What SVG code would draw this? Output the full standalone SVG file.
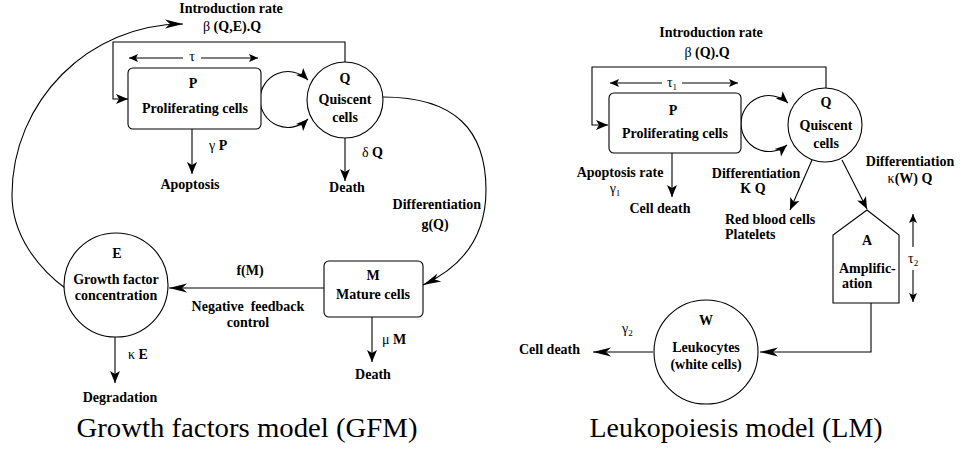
<svg xmlns="http://www.w3.org/2000/svg" width="962" height="451" viewBox="0 0 962 451">
  <style>
    .t { font-family: "Liberation Serif", "Times New Roman", serif; font-size: 14px; font-weight: bold; fill: #000; }
    .g { font-weight: normal; }
    .m { text-anchor: middle; }
    .e { text-anchor: end; }
    .ln { fill: none; stroke: #000; stroke-width: 1.1; }
    .nd { fill: #fff; stroke: #000; stroke-width: 1.1; }
    .cap { font-family: "Liberation Serif", "Times New Roman", serif; font-size: 27px; fill: #000; text-anchor: middle; }
  </style>
  <defs>
    <marker id="ah" markerUnits="userSpaceOnUse" markerWidth="14" markerHeight="12" refX="0" refY="0" viewBox="-13 -6 14 12" orient="auto">
      <path d="M0,0 L-12,-5 L-9,0 L-12,5 Z" fill="#000"/>
    </marker>
    <marker id="ahl" markerUnits="userSpaceOnUse" markerWidth="20" markerHeight="10" refX="0" refY="0" viewBox="-19 -5 20 10" orient="auto">
      <path d="M0,0 L-18,-4.5 L-13,0 L-18,4.5 Z" fill="#000"/>
    </marker>
    <marker id="ahs" markerUnits="userSpaceOnUse" markerWidth="11" markerHeight="10" refX="0" refY="0" viewBox="-10 -5 11 10" orient="auto-start-reverse">
      <path d="M0,0 L-9,-4 L-7,0 L-9,4 Z" fill="#000"/>
    </marker>
  </defs>

  <rect width="962" height="451" fill="#fff"/>

  <!-- Growth factors model: connectors -->
  <g id="connectors-gfm">
    <!-- feedback from E up to the introduction rate -->
    <path class="ln" d="M65,288 C38,268 12,235 12,195 C12,101 89,24 183,24" marker-end="url(#ahl)"/>
    <!-- introduction loop Q -> P -->
    <path class="ln" d="M345,62 V42 H113 V99 H128" marker-end="url(#ah)"/>
    <!-- tau duration -->
    <path class="ln" d="M129,58 H183" marker-start="url(#ahs)"/>
    <path class="ln" d="M201,58 H258" marker-end="url(#ahs)"/>
    <!-- P <-> Q exchange loop -->
    <path class="ln" d="M260,99 A28,28 0 0 1 308,80" marker-end="url(#ah)"/>
    <path class="ln" d="M260,99 A28,28 0 0 0 308,119" marker-end="url(#ah)"/>
    <!-- losses -->
    <path class="ln" d="M192,129 V174" marker-end="url(#ah)"/>
    <path class="ln" d="M345,138 V181" marker-end="url(#ah)"/>
    <!-- differentiation Q -> M -->
    <path class="ln" d="M383,97 C455,97 486,130 486,190 C486,240 460,268 423,285" marker-end="url(#ahl)"/>
    <!-- negative feedback M -> E -->
    <path class="ln" d="M324,288 H169" marker-end="url(#ahl)"/>
    <path class="ln" d="M372,317 V362" marker-end="url(#ah)"/>
    <path class="ln" d="M115,337 V383" marker-end="url(#ah)"/>
  </g>

  <!-- Growth factors model: labels -->
  <g id="labels-gfm" class="t">
    <text class="m" x="231" y="13">Introduction rate</text>
    <text class="m" x="232" y="31"><tspan class="g">β</tspan> (Q,E).Q</text>
    <text class="m g" x="192" y="61">τ</text>
    <text x="209" y="150"><tspan class="g">γ</tspan> P</text>
    <text class="m" x="190" y="189">Apoptosis</text>
    <text x="362" y="157"><tspan class="g">δ</tspan> Q</text>
    <text class="m" x="347" y="192">Death</text>
    <text class="e" x="481" y="209">Differentiation</text>
    <text class="m" x="435" y="229">g(Q)</text>
    <text class="m" x="250" y="275">f(M)</text>
    <text class="m" x="248" y="311" xml:space="preserve">Negative  feedback</text>
    <text class="m" x="248" y="327">control</text>
    <text x="382" y="344"><tspan class="g">μ</tspan> M</text>
    <text class="m" x="373" y="379">Death</text>
    <text x="128" y="359"><tspan class="g">κ</tspan> E</text>
    <text class="m" x="120" y="402">Degradation</text>
  </g>

  <!-- Growth factors model: nodes -->
  <g id="node-P" class="t">
    <rect class="nd" x="128" y="68" width="133" height="61" rx="5"/>
    <text class="m" x="193" y="88">P</text>
    <text class="m" x="195" y="113">Proliferating cells</text>
  </g>
  <g id="node-Q" class="t">
    <circle class="nd" cx="345" cy="100" r="38"/>
    <text class="m" x="345" y="83">Q</text>
    <text class="m" x="345" y="104">Quiscent</text>
    <text class="m" x="345" y="122">cells</text>
  </g>
  <g id="node-M" class="t">
    <rect class="nd" x="324" y="261" width="99" height="56" rx="5"/>
    <text class="m" x="373" y="280">M</text>
    <text class="m" x="373" y="299">Mature cells</text>
  </g>
  <g id="node-E" class="t">
    <circle class="nd" cx="116" cy="285" r="52"/>
    <text class="m" x="117" y="258">E</text>
    <text class="m" x="116" y="284">Growth factor</text>
    <text class="m" x="116" y="300">concentration</text>
  </g>

  <!-- Leukopoiesis model: connectors -->
  <g id="connectors-lm">
    <path class="ln" d="M826,88 V67 H592 V125 H608" marker-end="url(#ah)"/>
    <path class="ln" d="M610,83 H662" marker-start="url(#ahs)"/>
    <path class="ln" d="M682,83 H738" marker-end="url(#ahs)"/>
    <path class="ln" d="M741,124 A28,28 0 0 1 788,103" marker-end="url(#ah)"/>
    <path class="ln" d="M741,124 A28,28 0 0 0 787,145" marker-end="url(#ah)"/>
    <path class="ln" d="M672,153 V197" marker-end="url(#ah)"/>
    <path class="ln" d="M812,160 L790,210" marker-end="url(#ah)"/>
    <path class="ln" d="M842,160 L867,209" marker-end="url(#ah)"/>
    <!-- tau2 duration -->
    <path class="ln" d="M913,214 V247" marker-start="url(#ahs)"/>
    <path class="ln" d="M913,270 V302" marker-end="url(#ahs)"/>
    <!-- A -> W -->
    <path class="ln" d="M871,303 V352 H760" marker-end="url(#ahl)"/>
    <!-- W loss -->
    <path class="ln" d="M653,352 H593" marker-end="url(#ahl)"/>
  </g>

  <!-- Leukopoiesis model: labels -->
  <g id="labels-lm" class="t">
    <text class="m" x="711" y="37">Introduction rate</text>
    <text class="m" x="707" y="57"><tspan class="g">β</tspan> (Q).Q</text>
    <text class="m g" x="672" y="87">τ<tspan font-size="9" dy="3">1</tspan></text>
    <text class="m" x="620" y="177">Apoptosis rate</text>
    <text class="m g" x="615" y="193">γ<tspan font-size="9" dy="3">1</tspan></text>
    <text class="m" x="660" y="213">Cell death</text>
    <text class="m" x="756" y="178">Differentiation</text>
    <text class="m" x="753" y="193">K Q</text>
    <text x="725" y="224">Red blood cells</text>
    <text x="725" y="239">Platelets</text>
    <text class="m" x="910" y="166">Differentiation</text>
    <text class="m" x="910" y="183"><tspan class="g">κ</tspan>(W) Q</text>
    <text class="g" x="908" y="263">τ<tspan font-size="9" dy="3">2</tspan></text>
    <text class="g" x="622" y="333">γ<tspan font-size="9" dy="3">2</tspan></text>
    <text x="519" y="354">Cell death</text>
  </g>

  <!-- Leukopoiesis model: nodes -->
  <g id="node-P2" class="t">
    <rect class="nd" x="609" y="93" width="132" height="60" rx="5"/>
    <text class="m" x="673" y="115">P</text>
    <text class="m" x="675" y="138">Proliferating cells</text>
  </g>
  <g id="node-Q2" class="t">
    <circle class="nd" cx="825" cy="125" r="37"/>
    <text class="m" x="826" y="107">Q</text>
    <text class="m" x="826" y="130">Quiscent</text>
    <text class="m" x="826" y="148">cells</text>
  </g>
  <g id="node-A" class="t">
    <path class="nd" d="M867,210 L899,235 V303 H833 V235 Z"/>
    <text class="m" x="867" y="245">A</text>
    <text x="839" y="273">Amplific-</text>
    <text x="842" y="288">ation</text>
  </g>
  <g id="node-W" class="t">
    <circle class="nd" cx="706" cy="352" r="52"/>
    <text class="m" x="706" y="325">W</text>
    <text class="m" x="706" y="352">Leukocytes</text>
    <text class="m" x="706" y="369">(white cells)</text>
  </g>

  <!-- captions -->
  <text class="cap" x="247" y="437" textLength="341" lengthAdjust="spacingAndGlyphs">Growth factors model (GFM)</text>
  <text class="cap" x="736" y="437" textLength="293" lengthAdjust="spacingAndGlyphs">Leukopoiesis model (LM)</text>
</svg>
